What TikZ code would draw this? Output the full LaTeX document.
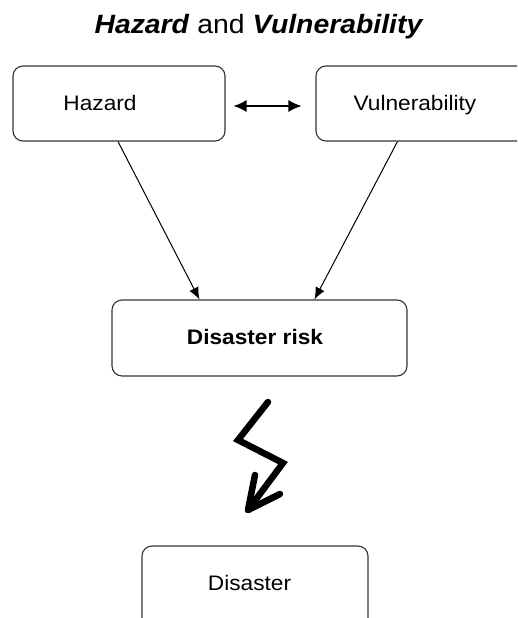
\documentclass[tikz,border=0pt]{standalone}
\usepackage{fontspec}
\setmainfont{Liberation Sans}
\usetikzlibrary{arrows.meta}
\begin{document}
\begin{tikzpicture}[x=1pt,y=-1pt,
  box/.style={draw=black!80, line width=1.1pt, rounded corners=10pt, inner sep=0pt},
  lbl/.style={anchor=base, inner sep=0pt, font=\fontsize{21}{25}\selectfont},
  conn/.style={draw=black, line width=1pt, -{Latex[length=12pt,width=10pt]}},
  bolt/.style={draw=black, line width=6.5pt, line cap=round},
]
\useasboundingbox (0,0) rectangle (517,618);
\clip (0,0) rectangle (517,618);
% title
\node[anchor=base, inner sep=0pt] (title) at (259,34)
  {\fontsize{26.5}{30}\selectfont\scalebox{1.07}[1]{\textbf{\textit{Hazard}} and \textbf{\textit{Vulnerability}}}};
% boxes
\node[box, minimum width=212pt, minimum height=75pt] (haz) at (119,103.5) {};
\node[box, minimum width=214pt, minimum height=75pt] (vul) at (423,103.5) {};
\node[box, minimum width=295pt, minimum height=76pt] (risk) at (259.5,338) {};
\node[box, minimum width=226pt, minimum height=84pt] (dis) at (255,588) {};
% labels
\node[lbl] (hazt) at (100,110) {\scalebox{1.08}[1]{Hazard}};
\node[lbl] (vult) at (415,110) {\scalebox{1.08}[1]{Vulnerability}};
\node[lbl] (riskt) at (255,344) {\scalebox{1.08}[1]{\textbf{Disaster risk}}};
\node[lbl] (dist) at (249.5,590) {\scalebox{1.08}[1]{Disaster}};
% connectors
\draw[line width=1.3pt, {Latex[length=13pt,width=12pt]}-{Latex[length=13pt,width=12pt]}]
  ([xshift=8pt,yshift=-2.5pt]haz.east) -- ([xshift=-14pt,yshift=-2.5pt]vul.west);
\draw[conn] ([xshift=-1pt]haz.south) -- ([xshift=88pt]risk.north west);
\draw[conn] ([xshift=82pt]vul.south west) -- ([xshift=203pt]risk.north west);
% lightning arrow
\draw[bolt, line join=miter] (268,402) -- (238,440) -- (283,463) -- (248,510);
\draw[bolt, line join=round] (255,475) -- (248,510) -- (280,494);
\end{tikzpicture}
\end{document}
